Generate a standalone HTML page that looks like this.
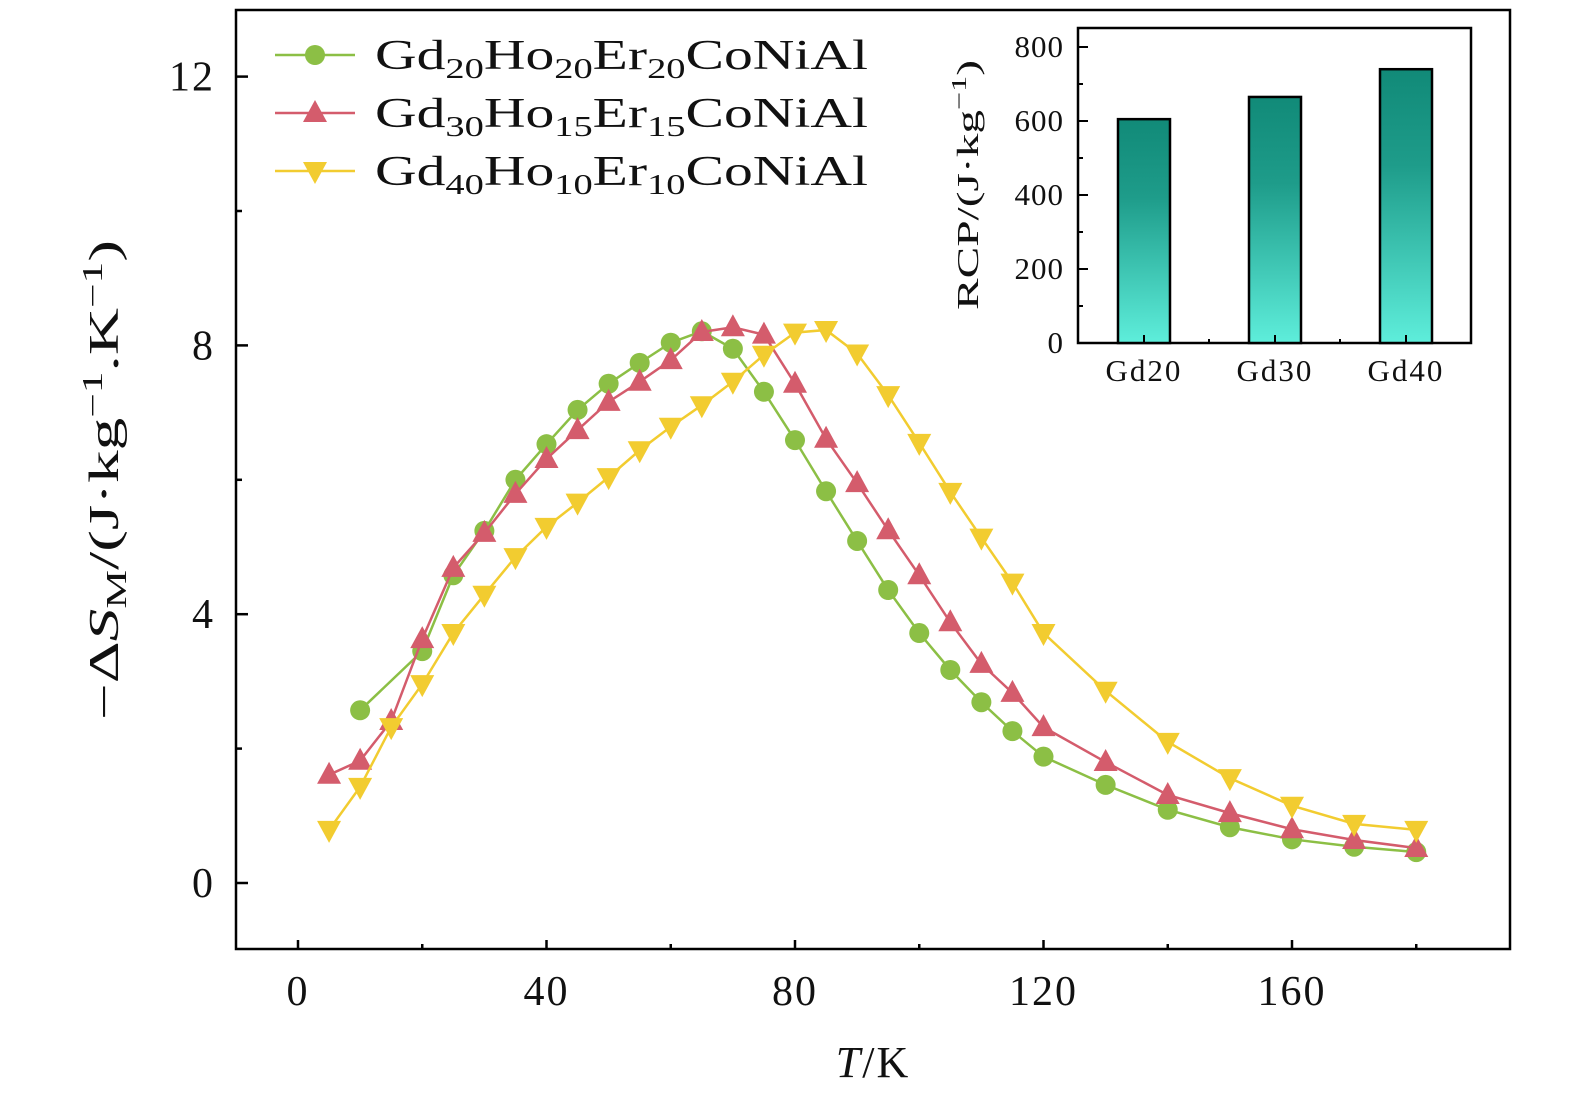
<!DOCTYPE html>
<html><head><meta charset="utf-8"><style>
body{margin:0;background:#fff;width:1575px;height:1102px;overflow:hidden}
svg text{font-family:"Liberation Serif",serif;fill:#111}
</style></head><body>
<svg id="c" width="1575" height="1102"></svg>
<script>
const temps=[5,10,15,20,25,30,35,40,45,50,55,60,65,70,75,80,85,90,95,100,105,110,115,120,130,140,150,160,170,180];
const gd20=[null,2.57,null,3.45,4.58,5.24,6.0,6.53,7.04,7.43,7.74,8.04,8.21,7.95,7.31,6.59,5.83,5.09,4.36,3.72,3.17,2.69,2.26,1.88,1.46,1.09,0.83,0.65,0.54,0.46];
const gd30=[1.61,1.82,2.41,3.63,4.69,5.21,5.79,6.31,6.74,7.16,7.46,7.78,8.2,8.27,8.16,7.43,6.61,5.95,5.25,4.58,3.88,3.26,2.83,2.32,1.80,1.31,1.04,0.80,0.64,0.52];
const gd40=[0.79,1.43,2.32,2.96,3.72,4.29,4.85,5.30,5.66,6.04,6.44,6.79,7.11,7.46,7.86,8.19,8.23,7.88,7.26,6.55,5.82,5.14,4.47,3.72,2.86,2.10,1.56,1.15,0.88,0.79];
const xTicks=[0,40,80,120,160];
const yTicks=[0,4,8,12];
const rcpCats=["Gd20","Gd30","Gd40"];
const rcpVals=[605,665,740];
const rcpTicks=[0,200,400,600,800];

const S=document.getElementById('c');const NS='http://www.w3.org/2000/svg';
function el(t,a,p){const e=document.createElementNS(NS,t);for(const k in a)e.setAttribute(k,a[k]);(p||S).appendChild(e);return e;}
const X=v=>298+v*6.2125, Y=v=>883-v*67.2;
const L=236,R=1510,T=10,B=949;
const defs=el('defs',{});
const g=el('linearGradient',{id:'bg',x1:0,y1:0,x2:0,y2:1},defs);
el('stop',{offset:'0','stop-color':'#118a78'},g);el('stop',{offset:'0.35','stop-color':'#1e9c8a'},g);el('stop',{offset:'1','stop-color':'#5eeedb'},g);
let f=el('rect',{x:L,y:T,width:R-L,height:B-T,fill:'none',stroke:'#000','stroke-width':2.5});

for(let v=0;v<=180;v+=20){const x=X(v);const len=v%40==0?9:5;el('line',{x1:x,y1:B,x2:x,y2:B-len,stroke:'#000','stroke-width':2.5});}
xTicks.forEach(v=>{const t=el('text',{x:X(v),y:1005,'font-size':42,'text-anchor':'middle','letter-spacing':2});t.textContent=v;
});
for(let v=0;v<=12;v+=2){const y=Y(v);const len=v%4==0?12:6;el('line',{x1:L,y1:y,x2:L+len,y2:y,stroke:'#000','stroke-width':2.5});}
yTicks.forEach(v=>{const t=el('text',{x:215,y:Y(v)+14,'font-size':42,'text-anchor':'end','letter-spacing':2});t.textContent=v;
});
let xt=el('text',{x:873,y:1077,'font-size':44,'text-anchor':'middle','letter-spacing':2});xt.innerHTML='<tspan font-style="italic">T</tspan>/K';

let yt=el('text',{transform:'translate(118,480) rotate(-90)','font-size':42,'text-anchor':'middle',textLength:480,lengthAdjust:'spacingAndGlyphs'});
yt.innerHTML='−Δ<tspan font-style="italic">S</tspan><tspan font-size="28" dy="8">M</tspan><tspan dy="-8">/(J·kg</tspan><tspan font-size="28" dy="-16">−1</tspan><tspan dy="16">.K</tspan><tspan font-size="28" dy="-16">−1</tspan><tspan dy="16">)</tspan>';

function marker(type,x,y,c,p){
 if(type==='c')return el('circle',{cx:x,cy:y,r:10,fill:c},p);
 if(type==='u')return el('polygon',{points:`${x},${y-13} ${x-12},${y+9} ${x+12},${y+9}`,fill:c},p);
 return el('polygon',{points:`${x},${y+13} ${x-12},${y-9} ${x+12},${y-9}`,fill:c},p);
}
const series=[[gd20,'#8cbf45','c','series-gd20'],[gd30,'#d45c6c','u','series-gd30'],[gd40,'#f2cc30','d','series-gd40']];
series.forEach(([d,c,m,n])=>{
 const gr=el('g',{});
 const pts=[];temps.forEach((t,i)=>{if(d[i]!=null)pts.push(X(t)+','+Y(d[i]));});
 el('polyline',{points:pts.join(' '),fill:'none',stroke:c,'stroke-width':2.5},gr);
 temps.forEach((t,i)=>{if(d[i]!=null){const k=marker(m,X(t),Y(d[i]),c,gr);}});
});
const leg=[['20','20','20'],['30','15','15'],['40','10','10']];
series.forEach(([d,c,m,n],i)=>{
 const y=55+i*58;const gr=el('g',{});
 el('line',{x1:275,y1:y,x2:355,y2:y,stroke:c,'stroke-width':2.5},gr);marker(m,315,y,c,gr);
 const t=el('text',{x:375,y:y+14,'font-size':42,textLength:493,lengthAdjust:'spacingAndGlyphs'},gr);
 t.innerHTML=`Gd<tspan font-size="28" dy="9">${leg[i][0]}</tspan><tspan dy="-9">Ho</tspan><tspan font-size="28" dy="9">${leg[i][1]}</tspan><tspan dy="-9">Er</tspan><tspan font-size="28" dy="9">${leg[i][2]}</tspan><tspan dy="-9">CoNiAl</tspan>`;
});
const IL=1078,IR=1471,IT=28,IB=343;const IY=v=>IB-v*0.37;
const ins=el('g',{});
el('rect',{x:IL,y:IT,width:IR-IL,height:IB-IT,fill:'#fff',stroke:'#000','stroke-width':2.5},ins);
const bx=i=>1144+i*131;
rcpVals.forEach((v,i)=>{const r=el('rect',{x:bx(i)-26,y:IY(v),width:52,height:IB-IY(v),fill:'url(#bg)',stroke:'#000','stroke-width':2.5},ins);
 
 const t=el('text',{x:bx(i),y:381,'font-size':31,'text-anchor':'middle','letter-spacing':2},ins);t.textContent=rcpCats[i];
 el('line',{x1:bx(i),y1:IB,x2:bx(i),y2:IB-8,stroke:'#000','stroke-width':2},ins);
 if(i<2)el('line',{x1:bx(i)+65,y1:IB,x2:bx(i)+65,y2:IB-4,stroke:'#000','stroke-width':2},ins);});
for(let v=0;v<=800;v+=100){el('line',{x1:IL,y1:IY(v),x2:IL+(v%200?5:10),y2:IY(v),stroke:'#000','stroke-width':2},ins);}
rcpTicks.forEach(v=>{const t=el('text',{x:1064,y:IY(v)+10,'font-size':31,'text-anchor':'end','letter-spacing':1},ins);t.textContent=v;});
const it=el('text',{transform:'translate(978,185) rotate(-90)','font-size':31,'text-anchor':'middle',textLength:250,lengthAdjust:'spacingAndGlyphs'},ins);
it.innerHTML='RCP/(J·kg<tspan font-size="21" dy="-12">−1</tspan><tspan dy="12">)</tspan>';

</script>
</body></html>
